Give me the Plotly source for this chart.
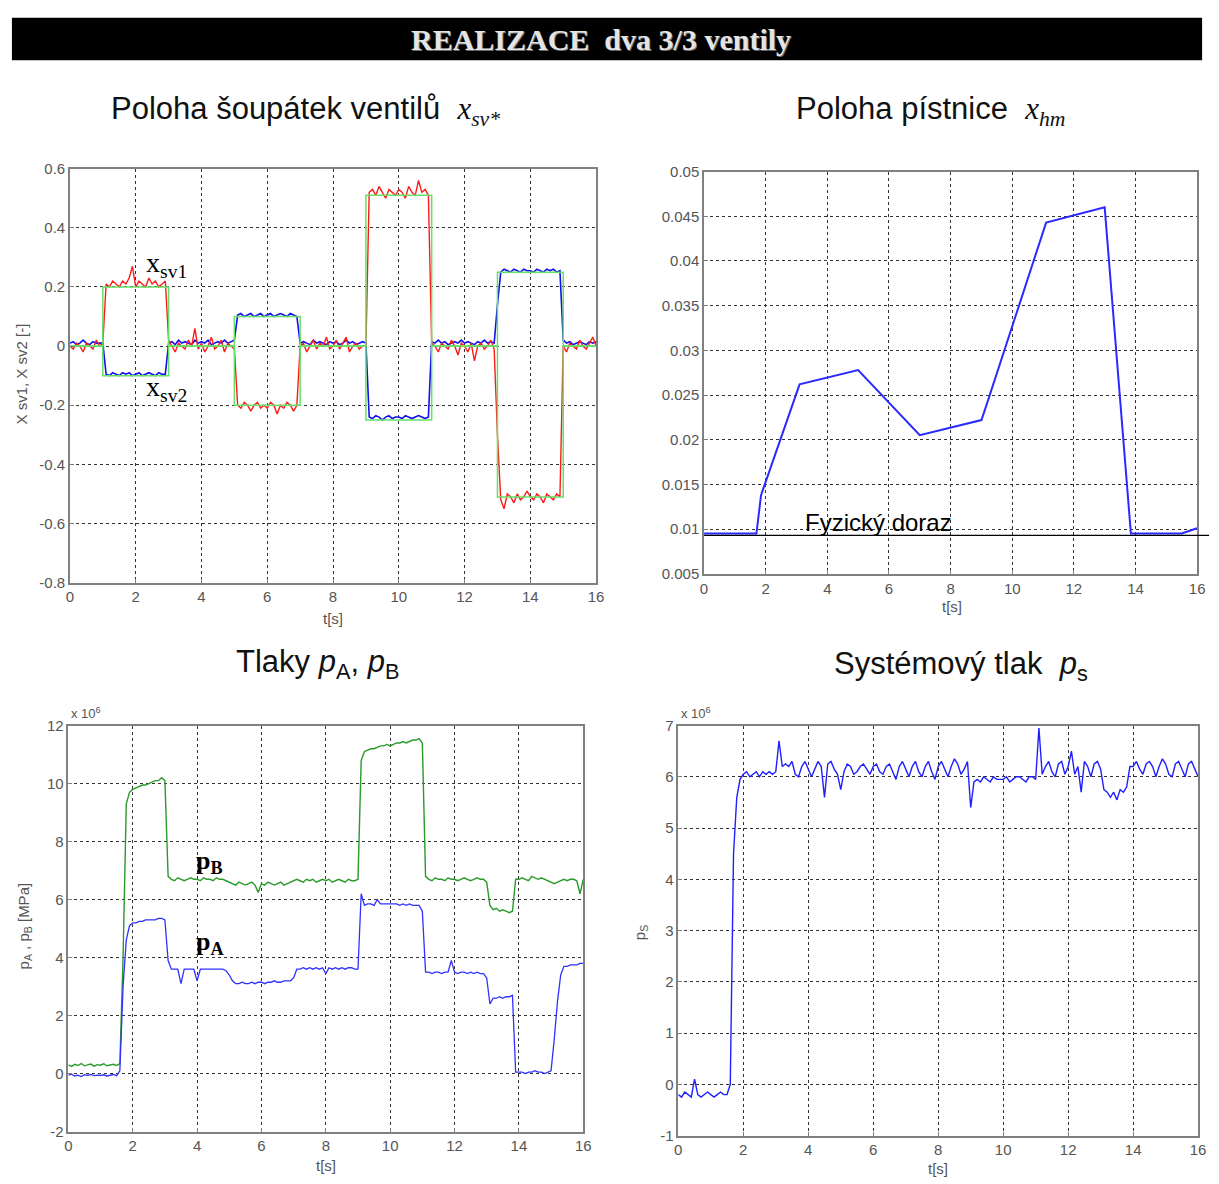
import plotly.graph_objects as go

# Figure fills the 1219x1184 window; the page margin is removed after load,
# so positions below are screen pixels.
W, H = 1219, 1184


def px(x):
    return x / W


def py(y):
    return 1 - y / H


def grid(vals):
    return [round(i * 0.1, 1) for i in range(len(vals))]


# ---------------- Top-left: valve spool positions ----------------
t_ref = [0, 1, 1, 3, 3, 5, 5, 7, 7, 9, 9, 11, 11, 13, 13, 15, 15, 16]
xsv1_ref = [0, 0, 0.2, 0.2, 0, 0, -0.2, -0.2, 0, 0, 0.51, 0.51, 0, 0, -0.51, -0.51, 0, 0]
xsv2_ref = [0, 0, -0.1, -0.1, 0, 0, 0.1, 0.1, 0, 0, -0.25, -0.25, 0, 0, 0.25, 0.25, 0, 0]

xsv1 = [
    0.00, -0.01, 0.01, 0.00, -0.02, 0.01, 0.00, -0.01, 0.02, 0.00,
    0.01, 0.21, 0.20, 0.22, 0.21, 0.20, 0.22, 0.21, 0.23, 0.27,
    0.20, 0.22, 0.21, 0.20, 0.23, 0.21, 0.22, 0.20, 0.21, 0.22,
    0.02, 0.00, -0.02, 0.01, 0.00, -0.01, 0.02, 0.00, 0.06, -0.01,
    0.01, -0.02, 0.00, 0.03, -0.01, 0.00, 0.02, -0.02, 0.01, 0.00,
    -0.01, -0.20, -0.21, -0.19, -0.20, -0.22, -0.20, -0.19, -0.21, -0.20,
    -0.21, -0.19, -0.20, -0.23, -0.20, -0.21, -0.19, -0.20, -0.22, -0.20,
    0.00, 0.01, -0.02, 0.00, 0.02, -0.01, 0.01, 0.00, 0.03, -0.01,
    0.00, 0.02, -0.01, 0.01, 0.03, -0.02, 0.00, 0.01, -0.01, 0.00,
    0.00, 0.52, 0.53, 0.51, 0.54, 0.52, 0.50, 0.53, 0.52, 0.51,
    0.53, 0.52, 0.50, 0.54, 0.52, 0.51, 0.56, 0.52, 0.53, 0.51,
    0.01, 0.00, -0.02, 0.01, 0.00, -0.01, 0.02, 0.00, -0.03, 0.01,
    0.00, -0.02, 0.01, -0.05, 0.00, 0.01, -0.01, 0.00, 0.02, -0.01,
    -0.30, -0.52, -0.55, -0.50, -0.51, -0.53, -0.50, -0.52, -0.51, -0.49,
    -0.51, -0.52, -0.50, -0.51, -0.53, -0.50, -0.51, -0.52, -0.50, -0.51,
    0.00, -0.02, 0.01, 0.00, -0.01, 0.02, 0.00, -0.01, 0.01, 0.03, 0.00,
]

xsv2 = [
    0.010, 0.015, 0.005, 0.010, 0.020, 0.010, 0.005, 0.015, 0.010, 0.010,
    0.010, -0.095, -0.100, -0.090, -0.095, -0.100, -0.090, -0.095, -0.090, -0.100,
    -0.095, -0.090, -0.100, -0.095, -0.090, -0.095, -0.100, -0.090, -0.095, -0.095,
    0.010, 0.015, 0.005, 0.020, 0.010, 0.015, 0.010, 0.005, 0.020, 0.010,
    0.015, 0.010, 0.020, 0.005, 0.010, 0.015, 0.010, 0.020, 0.010, 0.015,
    0.020, 0.105, 0.110, 0.100, 0.105, 0.110, 0.100, 0.105, 0.110, 0.100,
    0.105, 0.110, 0.100, 0.105, 0.110, 0.105, 0.100, 0.110, 0.105, 0.100,
    0.010, 0.015, 0.010, 0.005, 0.020, 0.010, 0.015, 0.010, 0.005, 0.015,
    0.010, 0.015, 0.005, 0.010, 0.020, 0.010, 0.015, 0.005, 0.010, 0.015,
    0.010, -0.240, -0.245, -0.235, -0.240, -0.250, -0.240, -0.235, -0.245, -0.240,
    -0.240, -0.245, -0.235, -0.240, -0.245, -0.240, -0.235, -0.240, -0.245, -0.240,
    0.015, 0.010, 0.020, 0.010, 0.015, 0.005, 0.010, 0.015, 0.010, 0.020,
    0.010, 0.015, 0.010, 0.005, 0.015, 0.010, 0.020, 0.010, 0.015, 0.010,
    0.140, 0.250, 0.260, 0.255, 0.250, 0.260, 0.255, 0.250, 0.260, 0.255,
    0.255, 0.250, 0.260, 0.255, 0.250, 0.260, 0.255, 0.260, 0.250, 0.255,
    0.020, 0.010, 0.015, 0.005, 0.010, 0.015, 0.010, 0.005, 0.015, 0.010, 0.015,
]

# ---------------- Top-right: piston position ----------------
t_hm = [0, 1.7, 1.85, 3.1, 5.0, 7.0, 9.0, 9.1, 11.1, 13.0, 13.85, 15.5, 16.0]
x_hm = [0.0095, 0.0095, 0.0138, 0.0262, 0.0278, 0.0205, 0.0222, 0.0232, 0.0443, 0.0460, 0.0095, 0.0095, 0.0101]
doraz_level = 0.0093

# ---------------- Bottom-left: pressures pA, pB (x 1e6) ----------------
pB = [
    0.30, 0.25, 0.32, 0.28, 0.35, 0.27, 0.30, 0.33, 0.26, 0.31,
    0.29, 0.34, 0.27, 0.30, 0.32, 0.28, 0.35, 4.00, 9.30, 9.70,
    9.80, 9.85, 9.90, 9.95, 9.95, 10.00, 10.05, 10.10, 10.10, 10.20,
    10.10, 6.80, 6.70, 6.65, 6.75, 6.70, 6.65, 6.70, 6.75, 6.70,
    6.70, 6.65, 6.75, 6.70, 6.70, 6.65, 6.75, 6.70, 6.70, 6.65,
    6.60, 6.55, 6.50, 6.60, 6.55, 6.50, 6.55, 6.60, 6.50, 6.25,
    6.55, 6.50, 6.60, 6.55, 6.50, 6.55, 6.60, 6.50, 6.55, 6.60,
    6.65, 6.70, 6.65, 6.60, 6.70, 6.65, 6.70, 6.60, 6.65, 6.70,
    6.65, 6.70, 6.60, 6.65, 6.70, 6.65, 6.60, 6.70, 6.65, 6.65,
    6.70, 10.80, 11.10, 11.15, 11.20, 11.20, 11.25, 11.30, 11.30, 11.35,
    11.30, 11.35, 11.40, 11.40, 11.45, 11.40, 11.45, 11.50, 11.50, 11.55,
    11.40, 6.80, 6.70, 6.65, 6.75, 6.70, 6.70, 6.65, 6.75, 6.70,
    6.70, 6.65, 6.70, 6.75, 6.70, 6.65, 6.70, 6.75, 6.70, 6.70,
    6.60, 5.80, 5.65, 5.70, 5.60, 5.65, 5.60, 5.55, 5.60, 6.70,
    6.70, 6.75, 6.70, 6.65, 6.80, 6.75, 6.70, 6.75, 6.70, 6.65,
    6.60, 6.55, 6.60, 6.65, 6.70, 6.65, 6.70, 6.70, 6.65, 6.20, 6.70,
]

pA = [
    -0.05, -0.02, -0.08, -0.05, -0.10, -0.04, -0.06, -0.03, -0.07, -0.05,
    -0.06, -0.04, -0.08, -0.05, -0.03, -0.07, 0.10, 3.00, 4.60, 5.10,
    5.20, 5.20, 5.25, 5.25, 5.30, 5.30, 5.30, 5.30, 5.35, 5.35,
    5.30, 3.90, 3.60, 3.60, 3.60, 3.10, 3.60, 3.60, 3.60, 3.60,
    3.20, 3.60, 3.60, 3.60, 3.60, 3.60, 3.60, 3.60, 3.60, 3.55,
    3.40, 3.20, 3.10, 3.10, 3.15, 3.10, 3.10, 3.15, 3.10, 3.15,
    3.15, 3.10, 3.15, 3.15, 3.20, 3.15, 3.15, 3.20, 3.20, 3.20,
    3.30, 3.60, 3.60, 3.65, 3.60, 3.65, 3.60, 3.65, 3.60, 3.65,
    3.45, 3.65, 3.60, 3.65, 3.60, 3.65, 3.60, 3.65, 3.65, 3.60,
    3.60, 6.20, 5.80, 5.85, 5.85, 5.80, 6.00, 5.85, 5.85, 5.85,
    5.85, 5.85, 5.85, 5.80, 5.85, 5.80, 5.85, 5.80, 5.80, 5.80,
    5.60, 3.50, 3.50, 3.45, 3.50, 3.50, 3.45, 3.50, 3.50, 3.90,
    3.50, 3.45, 3.50, 3.50, 3.45, 3.50, 3.45, 3.50, 3.45, 3.45,
    3.30, 2.40, 2.60, 2.60, 2.65, 2.60, 2.65, 2.65, 2.70, 0.05,
    0.05, 0.05, 0.00, 0.05, 0.05, 0.10, 0.05, 0.05, 0.00, 0.05,
    0.10, 1.20, 2.50, 3.40, 3.70, 3.70, 3.75, 3.75, 3.75, 3.80, 3.80,
]

# ---------------- Bottom-right: system pressure (x 1e6) ----------------
ps = [
    -0.20, -0.25, -0.15, -0.20, -0.25, 0.10, -0.20, -0.25, -0.20, -0.15,
    -0.20, -0.25, -0.20, -0.15, -0.20, -0.20, 0.00, 4.50, 5.60, 5.95,
    6.05, 6.10, 6.00, 6.05, 6.10, 6.00, 6.10, 6.05, 6.10, 6.05,
    6.10, 6.70, 6.20, 6.25, 6.20, 6.30, 6.05, 6.00, 6.20, 6.30,
    6.15, 6.00, 6.15, 6.30, 6.20, 5.60, 6.25, 6.30, 6.15, 6.05,
    5.75, 6.10, 6.25, 6.20, 6.05, 6.10, 6.20, 6.25, 6.15, 6.05,
    6.20, 6.25, 6.10, 6.05, 6.20, 6.25, 6.10, 5.95, 6.20, 6.30,
    6.15, 6.00, 6.20, 6.30, 6.10, 6.00, 6.20, 6.30, 6.10, 5.95,
    6.20, 6.30, 6.15, 6.00, 6.20, 6.35, 6.25, 6.05, 6.15, 6.30,
    5.40, 5.90, 5.95, 5.90, 6.00, 5.95, 5.90, 6.00, 5.95, 5.95,
    5.95, 6.00, 5.90, 5.95, 6.00, 6.00, 5.95, 5.90, 6.00, 6.00,
    5.95, 6.95, 6.05, 6.20, 6.30, 6.10, 6.00, 6.25, 6.30, 6.05,
    6.20, 6.50, 6.05, 6.20, 5.70, 6.30, 6.20, 6.00, 6.25, 6.30,
    6.15, 5.75, 5.70, 5.60, 5.70, 5.55, 5.75, 5.70, 5.80, 6.20,
    6.20, 6.30, 6.15, 6.05, 6.25, 6.30, 6.20, 6.00, 6.20, 6.35,
    6.25, 6.05, 6.00, 6.25, 6.30, 6.15, 6.00, 6.25, 6.30, 6.15, 6.00,
]

# tick labels
x_ticks = [0, 2, 4, 6, 8, 10, 12, 14, 16]
y1_ticks = [-0.8, -0.6, -0.4, -0.2, 0, 0.2, 0.4, 0.6]
y1_labels = ["-0.8", "-0.6", "-0.4", "-0.2", "0", "0.2", "0.4", "0.6"]
y2_ticks = [0.005, 0.01, 0.015, 0.02, 0.025, 0.03, 0.035, 0.04, 0.045, 0.05]
y2_labels = ["0.005", "0.01", "0.015", "0.02", "0.025", "0.03", "0.035", "0.04", "0.045", "0.05"]
y3_ticks = [-2, 0, 2, 4, 6, 8, 10, 12]
y3_labels = ["-2", "0", "2", "4", "6", "8", "10", "12"]
y4_ticks = [-1, 0, 1, 2, 3, 4, 5, 6, 7]
y4_labels = ["-1", "0", "1", "2", "3", "4", "5", "6", "7"]

fig = go.Figure()

# top-left
fig.add_trace(go.Scatter(x=grid(xsv2), y=xsv2, mode="lines", line=dict(color="#1010ee", width=1.6), xaxis="x", yaxis="y"))
fig.add_trace(go.Scatter(x=grid(xsv1), y=xsv1, mode="lines", line=dict(color="#ff1a1a", width=1.4), xaxis="x", yaxis="y"))
fig.add_trace(go.Scatter(x=t_ref, y=xsv1_ref, mode="lines", line=dict(color="#66e066", width=1.5), xaxis="x", yaxis="y"))
fig.add_trace(go.Scatter(x=t_ref, y=xsv2_ref, mode="lines", line=dict(color="#66e066", width=1.5), xaxis="x", yaxis="y"))

# top-right
fig.add_trace(go.Scatter(x=t_hm, y=x_hm, mode="lines", line=dict(color="#2a2aff", width=2), xaxis="x2", yaxis="y2"))

# bottom-left
fig.add_trace(go.Scatter(x=grid(pB), y=pB, mode="lines", line=dict(color="#2a9a2a", width=1.4), xaxis="x3", yaxis="y3"))
fig.add_trace(go.Scatter(x=grid(pA), y=pA, mode="lines", line=dict(color="#3030ff", width=1.3), xaxis="x3", yaxis="y3"))

# bottom-right
fig.add_trace(go.Scatter(x=grid(ps), y=ps, mode="lines", line=dict(color="#2020ff", width=1.4), xaxis="x4", yaxis="y4"))

tick_font = dict(family="Liberation Sans, Arial, sans-serif", size=15, color="#555555")
common = dict(
    showline=True, mirror=True, linecolor="#808080", linewidth=1.5,
    showgrid=True, gridcolor="#333333", griddash="dot", gridwidth=1,
    zeroline=False, ticks="inside", ticklen=4, tickcolor="#808080",
    tickfont=tick_font, fixedrange=True,
)

xcommon = dict(common, range=[0, 16], tickvals=x_ticks, ticktext=[str(v) for v in x_ticks])

fig.update_layout(
    width=W, height=H, autosize=False,
    margin=dict(l=0, r=0, t=0, b=0),
    paper_bgcolor="white", plot_bgcolor="white",
    showlegend=False,
    xaxis=dict(xcommon, domain=[px(66.6), px(598)], anchor="y"),
    yaxis=dict(common, domain=[py(582), py(162)], anchor="x", range=[-0.8, 0.6], tickvals=y1_ticks, ticktext=y1_labels),
    xaxis2=dict(xcommon, domain=[px(707), px(1205)], anchor="y2"),
    yaxis2=dict(common, domain=[py(573), py(165)], anchor="x2", range=[0.005, 0.05], tickvals=y2_ticks, ticktext=y2_labels),
    xaxis3=dict(xcommon, domain=[px(65), px(585)], anchor="y3"),
    yaxis3=dict(common, domain=[py(1139), py(727)], anchor="x3", range=[-2, 12], tickvals=y3_ticks, ticktext=y3_labels),
    xaxis4=dict(xcommon, domain=[px(681), px(1206)], anchor="y4"),
    yaxis4=dict(common, domain=[py(1143), py(727)], anchor="x4", range=[-1, 7], tickvals=y4_ticks, ticktext=y4_labels),
)

shapes = [
    dict(type="rect", xref="paper", yref="paper", x0=px(8), x1=px(1210), y0=py(52), y1=py(9),
         fillcolor="black", line=dict(width=0), layer="below"),
    dict(type="line", xref="paper", yref="y2", x0=px(707), x1=px(1217), y0=doraz_level, y1=doraz_level,
         line=dict(color="black", width=1.3)),
]
fig.update_layout(shapes=shapes)

sans = "Liberation Sans, Arial, sans-serif"
serif = "Liberation Serif, Times New Roman, serif"
gray = "#555555"

ann = []
# banner
ann.append(dict(text="<b>REALIZACE  dva 3/3 ventily</b>", xref="paper", yref="paper", x=px(604), y=py(32),
                showarrow=False, font=dict(family=serif, size=30, color="#6a6a6a"), xanchor="center", yanchor="middle"))
ann.append(dict(text="<b>REALIZACE  dva 3/3 ventily</b>", xref="paper", yref="paper", x=px(603), y=py(31),
                showarrow=False, font=dict(family=serif, size=30, color="#e4e4e4"), xanchor="center", yanchor="middle"))

# subplot titles
ann.append(dict(text="Poloha šoupátek ventilů  <span style='font-family:Liberation Serif'><i>x</i><sub><i>sv*</i></sub></span>",
                xref="paper", yref="paper", x=px(304), y=py(103), showarrow=False,
                font=dict(family=sans, size=31, color="#111111"), xanchor="center", yanchor="middle"))
ann.append(dict(text="Poloha pístnice  <span style='font-family:Liberation Serif'><i>x</i><sub><i>hm</i></sub></span>",
                xref="paper", yref="paper", x=px(936), y=py(103), showarrow=False,
                font=dict(family=sans, size=31, color="#111111"), xanchor="center", yanchor="middle"))
ann.append(dict(text="Tlaky <i>p</i><sub>A</sub>, <i>p</i><sub>B</sub>",
                xref="paper", yref="paper", x=px(317), y=py(665), showarrow=False,
                font=dict(family=sans, size=31, color="#111111"), xanchor="center", yanchor="middle"))
ann.append(dict(text="Systémový tlak  <i>p</i><sub>s</sub>",
                xref="paper", yref="paper", x=px(967), y=py(667), showarrow=False,
                font=dict(family=sans, size=31, color="#111111"), xanchor="center", yanchor="middle"))

# x-axis titles
for xx, yy in [(332, 618), (957, 606), (325, 1173), (943, 1176)]:
    ann.append(dict(text="t[s]", xref="paper", yref="paper", x=px(xx), y=py(yy), showarrow=False,
                    font=dict(family=sans, size=15, color=gray), xanchor="center", yanchor="middle"))

# y-axis titles
ann.append(dict(text="X sv1, X sv2 [-]", xref="paper", yref="paper", x=px(18), y=py(370), showarrow=False,
                textangle=-90, font=dict(family=sans, size=15, color=gray), xanchor="center", yanchor="middle"))
ann.append(dict(text="p<sub>A</sub> , p<sub>B</sub> [MPa]", xref="paper", yref="paper", x=px(21), y=py(930), showarrow=False,
                textangle=-90, font=dict(family=sans, size=15, color=gray), xanchor="center", yanchor="middle"))
ann.append(dict(text="p<sub>S</sub>", xref="paper", yref="paper", x=px(643), y=py(937), showarrow=False,
                textangle=-90, font=dict(family=sans, size=15, color=gray), xanchor="center", yanchor="middle"))

# exponent labels
for xx in (66, 682):
    ann.append(dict(text="x 10<sup>6</sup>", xref="paper", yref="paper", x=px(xx), y=py(714), showarrow=False,
                    font=dict(family=sans, size=13, color=gray), xanchor="left", yanchor="middle"))

# in-plot labels
ann.append(dict(text="x<sub>sv1</sub>", xref="x", yref="y", x=2.25, y=0.275, showarrow=False,
                font=dict(family=serif, size=28, color="black"), xanchor="left", yanchor="middle"))
ann.append(dict(text="x<sub>sv2</sub>", xref="x", yref="y", x=2.25, y=-0.145, showarrow=False,
                font=dict(family=serif, size=28, color="black"), xanchor="left", yanchor="middle"))
ann.append(dict(text="Fyzický doraz", xref="x2", yref="y2", x=3.2, y=0.0107, showarrow=False,
                font=dict(family=sans, size=24, color="black"), xanchor="left", yanchor="middle"))
ann.append(dict(text="<b>p</b><sub><b>B</b></sub>", xref="x3", yref="y3", x=3.9, y=7.3, showarrow=False,
                font=dict(family=serif, size=26, color="black"), xanchor="left", yanchor="middle"))
ann.append(dict(text="<b>p</b><sub><b>A</b></sub>", xref="x3", yref="y3", x=3.9, y=4.5, showarrow=False,
                font=dict(family=serif, size=26, color="black"), xanchor="left", yanchor="middle"))

fig.update_layout(annotations=ann)

fig.write_html(
    "out.html",
    config={"displayModeBar": False},
    post_script="document.body.style.margin='0';document.body.style.overflow='hidden';",
)
